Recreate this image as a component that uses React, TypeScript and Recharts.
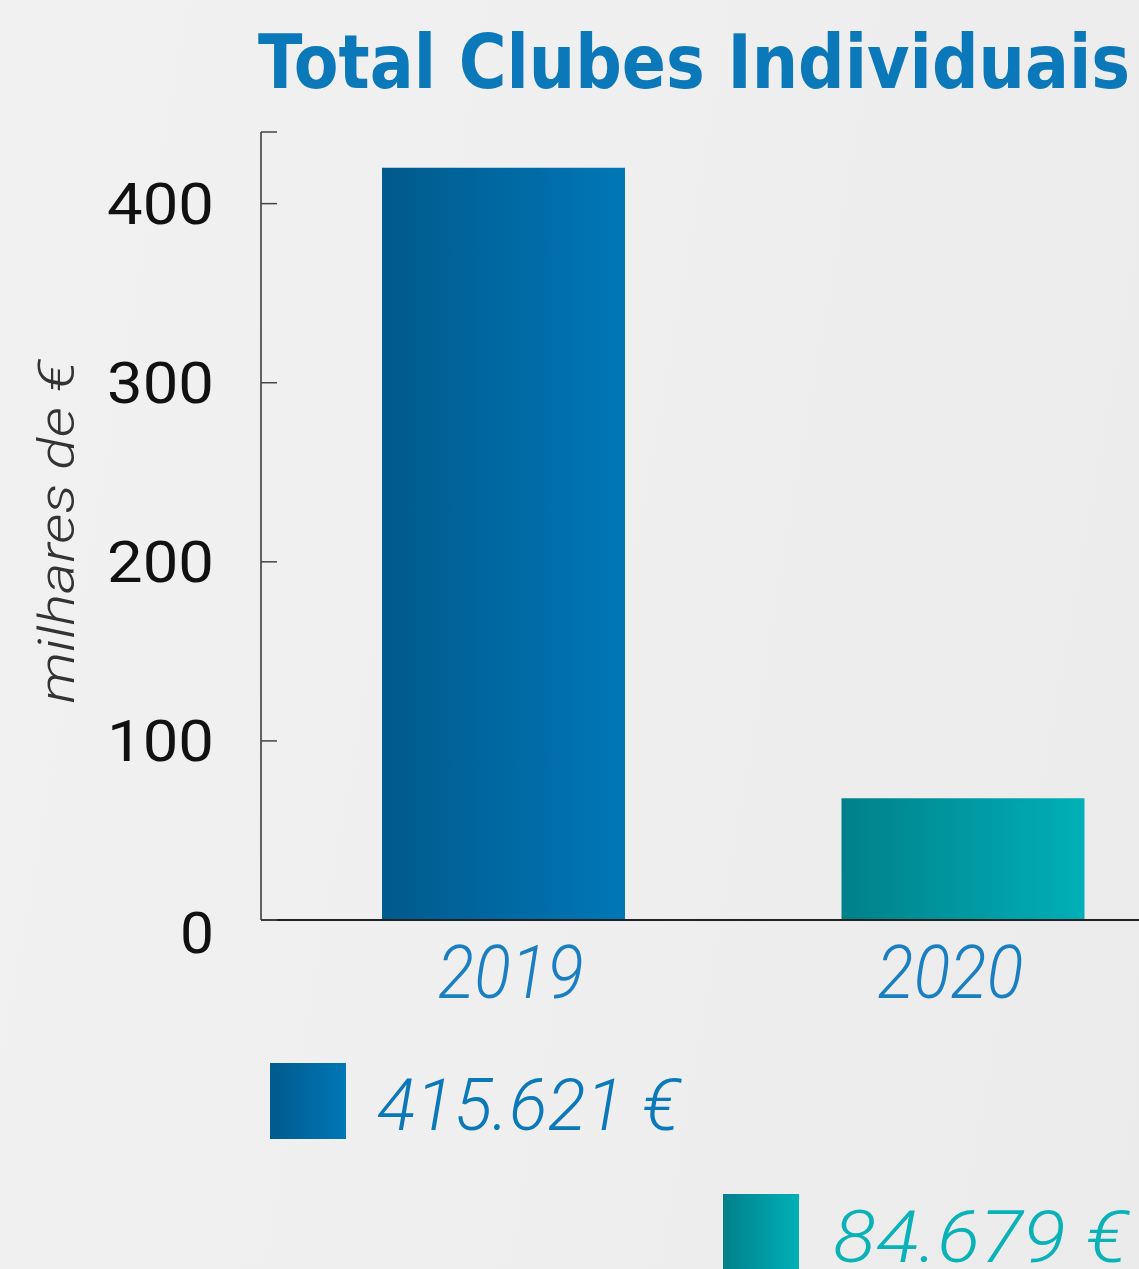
import { Bar, BarChart, Cell, Label, Legend, XAxis, YAxis } from "recharts";

const years = ["2019", "2020"];
const barValues = [420, 68];
const totalLabels = ["415.621 €", "84.679 €"];
const yTicks = [0, 100, 200, 300, 400, 440];

const C = {
  blue: "#0a78b9",
  blueDark: "#005a8c",
  blueLight: "#0077b7",
  tealDark: "#00808a",
  tealLight: "#00b0b8",
  teal: "#0ab2b8",
  axis: "#222",
  text: "#111",
  muted: "#333",
};

const FONT = "'DejaVu Sans', Roboto, sans-serif";
const THIN = "Roboto, 'DejaVu Sans', sans-serif";

const data = years.map((y, i) => ({ year: y, value: barValues[i], total: totalLabels[i] }));

// the year labels sit a little off the bar centres in the original
const yearShift = [7, -13];

function YTick({ x, y, payload }: any) {
  const v = payload.value as number;
  return (
    <g>
      <line x1={x} x2={x + 16} y1={y} y2={y} stroke="#444" strokeWidth={1.5} />
      {v % 100 === 0 && (
        <text
          x={x - 47}
          y={v === 0 ? y + 13 : y}
          textAnchor="end"
          dominantBaseline="central"
          fontFamily={THIN}
          fontWeight={400}
          fontSize={58}
          fill={C.text}
          textLength={v === 0 ? 34 : 107}
          lengthAdjust="spacingAndGlyphs"
        >
          {v}
        </text>
      )}
    </g>
  );
}

function XTick({ x, y, payload, index }: any) {
  return (
    <text
      x={x + (yearShift[index] ?? 0)}
      y={y + 78}
      textAnchor="middle"
      fontFamily={THIN}
      fontStyle="italic"
      fontWeight={300}
      fontSize={74}
      fill="#1a7fc1"
      textLength={146}
      lengthAdjust="spacingAndGlyphs"
    >
      {payload.value}
    </text>
  );
}

function TotalsLegend() {
  // staggered legend squares with totals, coordinates relative to wrapper (top 1040)
  const items = [
    { sq: [270, 23], tx: 377, ty: 90, w: 303, color: C.blue, grad: "lgBlue" },
    { sq: [723, 154], tx: 833, ty: 222, w: 295, color: C.teal, grad: "lgTeal" },
  ];
  return (
    <svg width={1139} height={229} style={{ display: "block" }}>
      <defs>
        <linearGradient id="lgBlue" x1="0" y1="0" x2="1" y2="0">
          <stop offset="0%" stopColor={C.blueDark} />
          <stop offset="100%" stopColor={C.blueLight} />
        </linearGradient>
        <linearGradient id="lgTeal" x1="0" y1="0" x2="1" y2="0">
          <stop offset="0%" stopColor={C.tealDark} />
          <stop offset="100%" stopColor={C.tealLight} />
        </linearGradient>
      </defs>
      {data.map((d, i) => {
        const it = items[i];
        return (
          <g key={d.year}>
            <rect x={it.sq[0]} y={it.sq[1]} width={76} height={76} fill={`url(#${it.grad})`} />
            <text
              x={it.tx}
              y={it.ty}
              fontFamily={THIN}
              fontStyle="italic"
              fontWeight={300}
              fontSize={72}
              fill={it.color}
              textLength={it.w}
              lengthAdjust="spacingAndGlyphs"
            >
              {d.total}
            </text>
          </g>
        );
      })}
    </svg>
  );
}

export default function App() {
  return (
    <div
      style={{
        position: "fixed",
        left: 0,
        top: 0,
        width: 1139,
        height: 1269,
        overflow: "hidden",
        background: "linear-gradient(100deg, #f1f1f1 0%, #efefef 50%, #ebebeb 100%)",
      }}
    >
      <svg width={1139} height={120} style={{ position: "absolute", left: 0, top: 0 }}>
        <text
          x={258}
          y={88}
          fontFamily={FONT}
          fontWeight="bold"
          fontSize={74}
          fill={C.blue}
          textLength={872}
          lengthAdjust="spacingAndGlyphs"
        >
          Total Clubes Individuais
        </text>
      </svg>
      <BarChart
        width={1193}
        height={1269}
        data={data}
        margin={{ top: 132, right: 0, bottom: 0, left: 0 }}
        style={{ position: "absolute", left: 0, top: 0 }}
      >
        <defs>
          <linearGradient id="barBlue" x1="0" y1="0" x2="1" y2="0">
            <stop offset="0%" stopColor={C.blueDark} />
            <stop offset="100%" stopColor={C.blueLight} />
          </linearGradient>
          <linearGradient id="barTeal" x1="0" y1="0" x2="1" y2="0">
            <stop offset="0%" stopColor={C.tealDark} />
            <stop offset="100%" stopColor={C.tealLight} />
          </linearGradient>
        </defs>
        <XAxis
          dataKey="year"
          height={349}
          padding={{ left: 13, right: 0 }}
          axisLine={{ stroke: C.axis, strokeWidth: 2 }}
          tickLine={false}
          tickSize={0}
          tickMargin={0}
          tick={<XTick />}
        />
        <YAxis
          width={261}
          domain={[0, 440]}
          ticks={yTicks}
          axisLine={{ stroke: C.muted, strokeWidth: 1.5 }}
          tickLine={false}
          tickSize={0}
          tickMargin={0}
          tick={<YTick />}
          interval={0}
        >
          <Label
            content={() => (
              <text
                x={74}
                y={532}
                transform="rotate(-90, 74, 532)"
                textAnchor="middle"
                fontFamily={THIN}
                fontStyle="italic"
                fontWeight={300}
                fontSize={50}
                fill={C.muted}
                textLength={343}
                lengthAdjust="spacingAndGlyphs"
              >
                milhares de €
              </text>
            )}
          />
        </YAxis>
        <Legend
          layout="horizontal"
          verticalAlign="middle"
          align="center"
          wrapperStyle={{ top: 1040, left: 0, width: 1139 }}
          content={() => <TotalsLegend />}
        />
        <Bar dataKey="value" barSize={243} isAnimationActive={false}>
          {data.map((d, i) => (
            <Cell key={d.year} fill={i === 0 ? "url(#barBlue)" : "url(#barTeal)"} />
          ))}
        </Bar>
      </BarChart>
    </div>
  );
}
